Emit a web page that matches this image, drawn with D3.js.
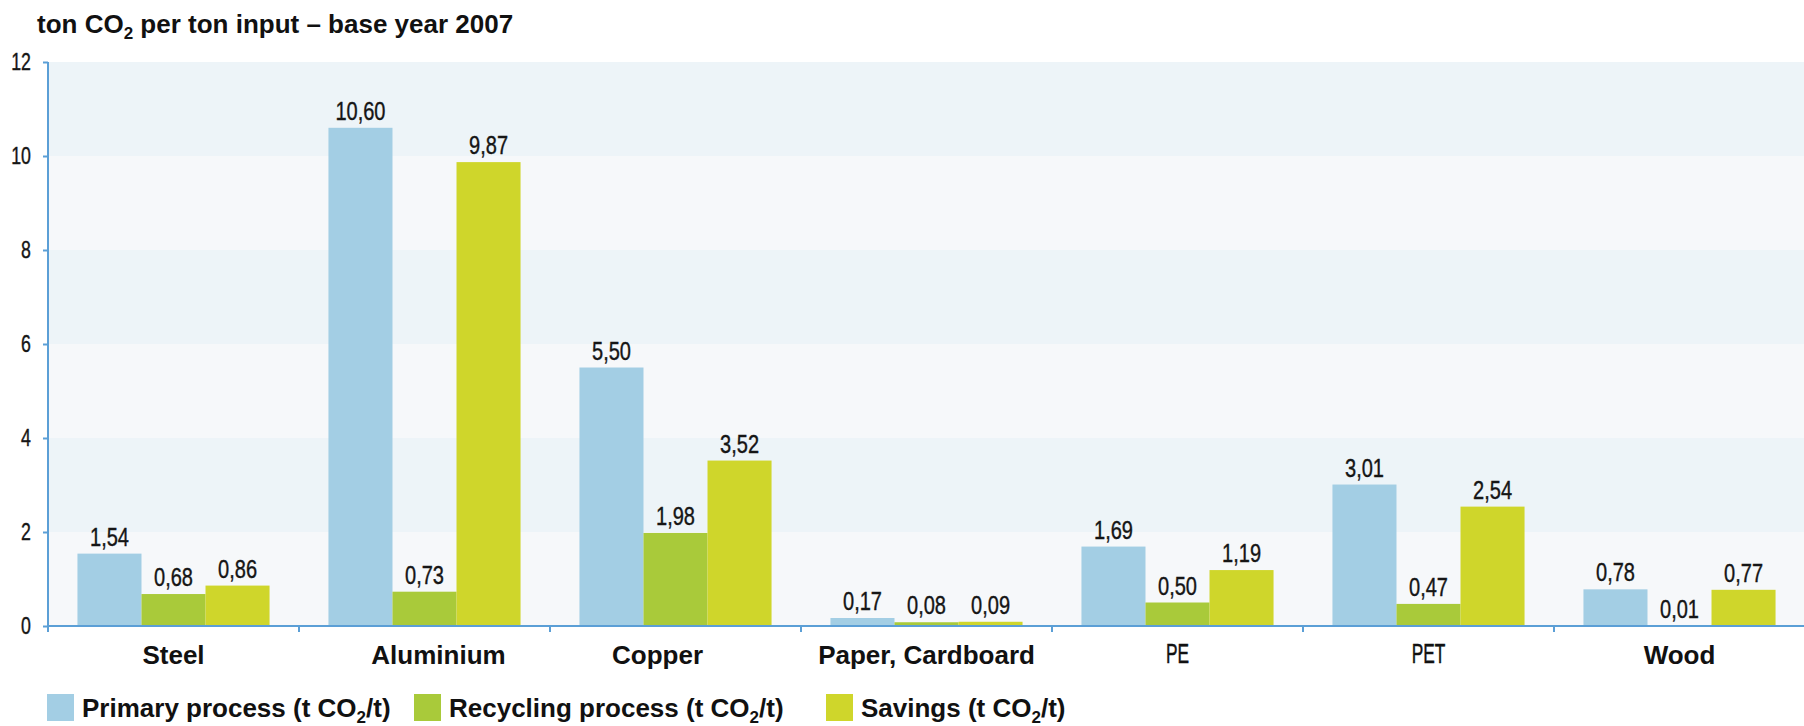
<!DOCTYPE html>
<html><head><meta charset="utf-8">
<script src="https://cdn.jsdelivr.net/npm/d3@7"></script>
<style>
html,body{margin:0;padding:0;background:#fff;}
svg{display:block;}
</style></head><body>
<svg id="chart" width="1804" height="726"></svg>
<script>
// Emissions per ton of input material, base year 2007
const categories = ["Steel", "Aluminium", "Copper", "Paper, Cardboard", "PE", "PET", "Wood"];
const primaryValues = [1.54, 10.60, 5.50, 0.17, 1.69, 3.01, 0.78];
const recyclingValues = [0.68, 0.73, 1.98, 0.08, 0.50, 0.47, 0.01];
const savingsValues = [0.86, 9.87, 3.52, 0.09, 1.19, 2.54, 0.77];
const seriesKeys = ["primary", "recycling", "savings"];
const seriesLabels = ["Primary process", "Recycling process", "Savings"];
const yTickValues = [0, 2, 4, 6, 8, 10, 12];
const narrowCategories = ["PE", "PET"];

const W = 1804, H = 726;
const plot = {left: 48, right: 1805, top: 62, bottom: 626};
const colors = {primary: "#a3cee4", recycling: "#a9ca3a", savings: "#cfd62b"};
const axisColor = "#5b9fd6";
const bandBlue = "#edf4f8", bandLight = "#f6f8fa";
const baseFont = "'Liberation Sans', Arial, Helvetica, sans-serif";
// horizontal squeeze used to get a condensed face out of the regular sans
const numSqueeze = 0.77, tickSqueeze = 0.74, capSqueeze = 0.64;
// small horizontal nudges of some category labels
const labelShift = {"Aluminium": 14, "Copper": -18};

const rows = categories.map((c, i) => ({
  category: c,
  primary: primaryValues[i],
  recycling: recyclingValues[i],
  savings: savingsValues[i]
}));

const svg = d3.select("#chart");

const y = d3.scaleLinear().domain([0, 12]).range([plot.bottom, plot.top]);
const x0 = d3.scaleBand().domain(categories).range([plot.left, plot.right]).padding(0);
const x1 = d3.scaleBand().domain(seriesKeys).range([0, x0.bandwidth()])
  .paddingInner(0).paddingOuter(0.46);

const fmt = d3.formatLocale({decimal: ",", thousands: ".", grouping: [3], currency: ["", ""]}).format(".2f");

// alternating horizontal background bands
const bandStarts = yTickValues.slice(0, -1);
svg.append("g").selectAll("rect").data(bandStarts).join("rect")
  .attr("x", plot.left)
  .attr("width", W - plot.left)
  .attr("y", d => y(d + 2))
  .attr("height", d => y(d) - y(d + 2))
  .attr("fill", (d, i) => i % 2 === 0 ? bandLight : bandBlue);

// title with subscript
const title = svg.append("text")
  .attr("x", 37).attr("y", 33)
  .attr("font-family", baseFont).attr("font-weight", "bold")
  .attr("font-size", 26).attr("fill", "#111");
title.append("tspan").text("ton CO");
title.append("tspan").text("2").attr("font-size", 17).attr("dy", 6);
title.append("tspan").text(" per ton input \u2013 base year 2007").attr("dy", -6);

// bars
const groups = svg.append("g").selectAll("g").data(rows).join("g")
  .attr("transform", d => `translate(${x0(d.category)},0)`);

const cells = d => seriesKeys.map(k => ({key: k, value: d[k]}));

groups.selectAll("rect").data(cells).join("rect")
  .attr("x", d => x1(d.key))
  .attr("width", x1.bandwidth())
  .attr("y", d => y(d.value))
  .attr("height", d => y(0) - y(d.value))
  .attr("fill", d => colors[d.key]);

groups.selectAll("text").data(cells).join("text")
  .attr("transform", d => `translate(${x1(d.key) + x1.bandwidth() / 2},${y(d.value) - 8}) scale(${numSqueeze},1)`)
  .attr("text-anchor", "middle")
  .attr("font-family", baseFont)
  .attr("font-size", 26)
  .attr("fill", "#151515")
  .attr("stroke", "#151515").attr("stroke-width", 0.4)
  .text(d => fmt(d.value));

// y axis
const yAxis = svg.append("g")
  .attr("transform", `translate(${plot.left},0)`)
  .call(d3.axisLeft(y).tickValues(yTickValues).tickSize(5).tickFormat(""));
yAxis.select(".domain").attr("stroke", axisColor).attr("stroke-width", 2)
  .attr("d", `M0,${plot.top}V${plot.bottom}`);
yAxis.selectAll(".tick line").attr("stroke", axisColor).attr("stroke-width", 2);

svg.append("g").selectAll("text").data(yTickValues).join("text")
  .attr("transform", d => `translate(31,${y(d)}) scale(${tickSqueeze},1)`)
  .attr("dy", "0.35em")
  .attr("text-anchor", "end")
  .attr("font-family", baseFont).attr("font-size", 24).attr("fill", "#151515")
  .attr("stroke", "#151515").attr("stroke-width", 0.4)
  .text(d3.format("d"));

// x axis: ticks at band boundaries
const xAxisG = svg.append("g").attr("transform", `translate(0,${plot.bottom})`);
xAxisG.append("line")
  .attr("x1", plot.left).attr("x2", W)
  .attr("stroke", axisColor).attr("stroke-width", 2);
xAxisG.selectAll("line.tick").data(categories).join("line")
  .attr("class", "tick")
  .attr("x1", d => x0(d)).attr("x2", d => x0(d))
  .attr("y1", 0).attr("y2", 6)
  .attr("stroke", axisColor).attr("stroke-width", 2);
xAxisG.selectAll("text").data(categories).join("text")
  .attr("transform", d => {
    const cx = x0(d) + x0.bandwidth() / 2 + (labelShift[d] || 0);
    return narrowCategories.includes(d)
      ? `translate(${cx},37) scale(${capSqueeze},1)`
      : `translate(${cx},38)`;
  })
  .attr("text-anchor", "middle")
  .attr("font-family", baseFont)
  .attr("font-weight", d => narrowCategories.includes(d) ? "normal" : "bold")
  .attr("font-size", d => narrowCategories.includes(d) ? 27 : 26)
  .attr("fill", "#111")
  .attr("stroke", d => narrowCategories.includes(d) ? "#111" : "none")
  .attr("stroke-width", 0.5)
  .text(d => d);

// legend
const legendX = [47, 414, 826];
const legend = svg.append("g").selectAll("g").data(seriesKeys).join("g")
  .attr("transform", (d, i) => `translate(${legendX[i]},694)`);
legend.append("rect")
  .attr("width", 27).attr("height", 27)
  .attr("fill", d => colors[d]);
const lt = legend.append("text")
  .attr("x", 35).attr("y", 23)
  .attr("font-family", baseFont).attr("font-weight", "bold")
  .attr("font-size", 26).attr("fill", "#111");
lt.append("tspan").text((d, i) => seriesLabels[i] + " (t CO");
lt.append("tspan").text("2").attr("font-size", 17).attr("dy", 6);
lt.append("tspan").text("/t)").attr("dy", -6);
</script>
</body></html>
